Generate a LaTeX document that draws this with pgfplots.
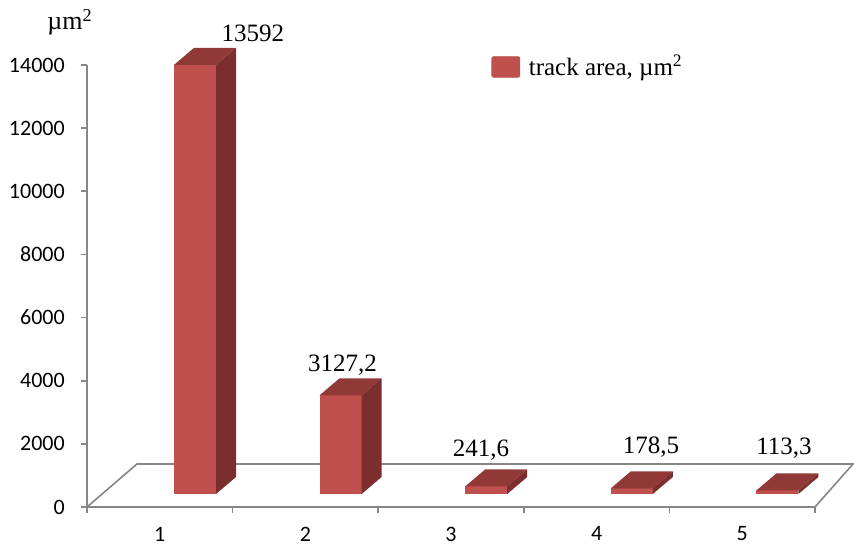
\documentclass[border=0pt]{standalone}
\usepackage{pgfplots}
\usepackage{pgfplotstable}
\pgfplotsset{compat=1.18}
\usepackage{fontspec}
\setmainfont{Liberation Serif}
\newfontfamily\calibri{Carlito}
\definecolor{barfront}{RGB}{192,80,77}
\definecolor{bartop}{RGB}{145,57,55}
\definecolor{barside}{RGB}{123,46,45}
\definecolor{axgray}{RGB}{134,134,134}

\pgfplotstableread{
idx value
0 13592
1 3127.2
2 241.6
3 178.5
4 113.3
}\datatable

\pgfplotstableread{
lx ly label
1.140 14729 13592
1.755 4276 3127,2
2.706 1584 241,6
3.874 1710 178,5
4.787 1647 113,3
}\labeltable

\begin{document}
\begin{tikzpicture}
\begin{axis}[
  scale only axis, width=364pt, height=221pt,
  xmin=0, xmax=5, ymin=0, ymax=14000,
  clip=false,
  axis x line*=bottom, axis y line*=left,
  axis line style={axgray, line width=0.8pt},
  xtick={0,...,5}, xticklabels={1,2,3,4,5}, x tick label as interval,
  ytick={0,2000,...,14000},
  scaled y ticks=false,
  tick align=outside, major tick length=3pt,
  tick style={axgray, line width=0.8pt},
  tick label style={font=\calibri\fontsize{11}{13}\selectfont, text=black},
  /pgf/number format/assume math mode=true,
  /pgf/number format/1000 sep={},
  yticklabel style={xshift=-4.6pt},
  xticklabel style={yshift=-3.4pt},
  legend style={at={(rel axis cs:0.55495,0.99548)}, anchor=west, draw=none, fill=none,
    inner sep=0pt, font=\fontsize{12.5}{15}\selectfont,
    /tikz/every odd column/.append style={column sep=2.3pt}},
  legend cell align=left,
]
% floor
\addplot[axgray, line width=0.8pt, forget plot] coordinates {(0,0) (0.3434,1362) (5.261,1362) (5,0)};
% 3D bars
\pgfplotsinvokeforeach{0,...,4}{
  \pgfplotstablegetelem{#1}{value}\of\datatable
  \pgfmathsetmacro\yt{412+\pgfplotsretval}
  \pgfmathsetmacro\ytb{\yt+538}
  \pgfmathsetmacro\xl{0.5975+#1}
  \pgfmathsetmacro\xr{\xl+0.2885}
  \pgfmathsetmacro\xlb{\xl+0.1374}
  \pgfmathsetmacro\xrb{\xr+0.1374}
  \addplot[fill=barfront, draw=none, forget plot] coordinates {(\xl,412) (\xr,412) (\xr,\yt) (\xl,\yt)};
  \addplot[fill=bartop, draw=none, forget plot] coordinates {(\xl,\yt) (\xr,\yt) (\xrb,\ytb) (\xlb,\ytb)};
  \addplot[fill=barside, draw=none, forget plot] coordinates {(\xr,412) (\xrb,950) (\xrb,\ytb) (\xr,\yt)};
}
% value labels
\addplot[only marks, mark=none, forget plot, nodes near coords, point meta=explicit symbolic,
  every node near coord/.append style={anchor=base, inner sep=0pt, font=\fontsize{12.5}{15}\selectfont, text=black}]
  table[x=lx, y=ly, meta=label] {\labeltable};
\addlegendimage{legend image code/.code={\fill[barfront, rounded corners=1pt] (0pt,-5.15pt) rectangle (14pt,5.15pt);}}
\addlegendentry{track area, µm\textsuperscript{2}}
\node[anchor=base, font=\fontsize{13}{15}\selectfont] at (rel axis cs:-0.02335,1.0792) {µm\textsuperscript{2}};
\coordinate (bbtl) at (rel axis cs:-0.11951,1.14706);
\coordinate (bbbr) at (rel axis cs:1.05357,-0.08371);
\end{axis}
\pgfresetboundingbox
\useasboundingbox (bbtl) rectangle (bbbr);
\end{tikzpicture}
\end{document}
